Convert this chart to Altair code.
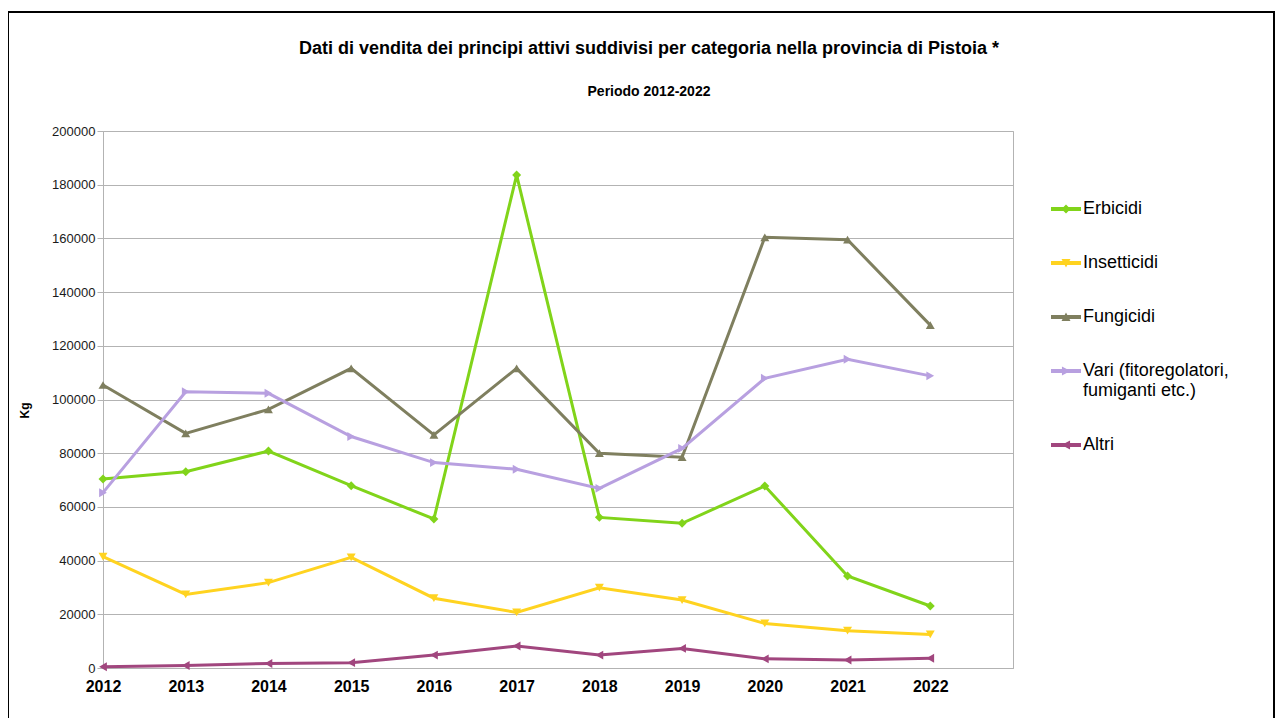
import altair as alt
import pandas as pd

years = [2012, 2013, 2014, 2015, 2016, 2017, 2018, 2019, 2020, 2021, 2022]
categories = ["Erbicidi", "Insetticidi", "Fungicidi",
              "Vari (fitoregolatori, fumiganti etc.)", "Altri"]
erbicidi = [70400, 73100, 80800, 67900, 55500, 183600, 56100, 53900, 67800, 34300, 23100]
insetticidi = [41500, 27400, 31800, 41200, 26000, 20700, 29900, 25300, 16600, 13900, 12500]
fungicidi = [105400, 87400, 96300, 111600, 86800, 111600, 80000, 78500, 160400, 159500, 127700]
vari = [65300, 102900, 102300, 86200, 76500, 74000, 66900, 81800, 107900, 115000, 108800]
altri = [500, 900, 1700, 2000, 4800, 8200, 4800, 7300, 3400, 3000, 3600]
y_ticks = list(range(0, 200001, 20000))

colors = ["#81d41a", "#ffd320", "#7f7f5f", "#b8a0e0", "#a1467e"]
widths = [3, 3, 3, 4.5, 4]
markers = ["diamond", "triangle-down", "triangle-up", "triangle-right", "triangle-left"]
bar = "M-1,-0.13H1V0.13H-1Z "
legend_shapes = [
    bar + "M0,-0.3L0.3,0L0,0.3L-0.3,0Z",
    bar + "M-0.3,-0.27L0.3,-0.27L0,0.3Z",
    bar + "M0,-0.3L0.3,0.27L-0.3,0.27Z",
    bar + "M-0.27,-0.3L0.3,0L-0.27,0.3Z",
    bar + "M0.27,-0.3L0.27,0.3L-0.3,0Z",
]

series = [erbicidi, insetticidi, fungicidi, vari, altri]
rows = []
for cat, vals in zip(categories, series):
    for yr, v in zip(years, vals):
        rows.append({"Anno": yr, "Kg": v, "Categoria": cat})
df = pd.DataFrame(rows)

FONT = "Liberation Sans"
GRID = "#b3b3b3"

x_enc = alt.X("Anno:Q",
              scale=alt.Scale(domain=[2012, 2023], nice=False, zero=False),
              axis=alt.Axis(values=years, format="d", title=None, grid=False,
                            ticks=False, tickSize=0, labelFontSize=16,
                            labelFontWeight="bold", labelColor="#000",
                            labelPadding=10, domainColor=GRID, labelFlush=False))
y_enc = alt.Y("Kg:Q",
              scale=alt.Scale(domain=[0, 200000], nice=False),
              axis=alt.Axis(values=y_ticks, format="d", title="Kg",
                            titleFontSize=12, titleFontWeight="bold",
                            titleColor="#000", titleX=-79, titleY=279,
                            titleBaseline="middle", titleAngle=270,
                            labelFontSize=13, labelColor="#1a1a1a",
                            labelPadding=2, tickSize=6, tickColor=GRID,
                            domainColor=GRID, gridColor=GRID))

def color_enc(legend):
    return alt.Color("Categoria:N", scale=alt.Scale(domain=categories, range=colors),
                     legend=legend)

base = alt.Chart(df).encode(x=x_enc, y=y_enc)

lines = base.mark_line().encode(
    color=color_enc(None),
    strokeWidth=alt.StrokeWidth("Categoria:N",
                                scale=alt.Scale(domain=categories, range=widths),
                                legend=None),
)
points = base.mark_point(filled=True, opacity=1, size=80).encode(
    color=color_enc(None),
    shape=alt.Shape("Categoria:N", scale=alt.Scale(domain=categories, range=markers),
                    legend=None),
)

def leg():
    return alt.Legend(title=None, orient="none", legendX=948, legendY=63,
                      symbolSize=900, symbolStrokeWidth=0, symbolOpacity=1,
                      labelFontSize=18, labelFont=FONT, labelColor="#000",
                      labelOffset=2, rowPadding=30, labelLimit=400, padding=0,
                      labelExpr="split(replace(datum.label, ', ', ',|'), '|')")

legend_layer = base.mark_point(filled=True, opacity=1).encode(
    color=color_enc(leg()),
    shape=alt.Shape("Categoria:N",
                    scale=alt.Scale(domain=categories, range=legend_shapes),
                    legend=leg()),
).transform_filter("false")

fdf = pd.DataFrame({"f": [0]})
frame_left = alt.Chart(fdf).mark_rule(color="#000", strokeWidth=2).encode(
    x=alt.value(-95), y=alt.value(-119), y2=alt.value(590))
frame_top = alt.Chart(fdf).mark_rule(color="#000", strokeWidth=2).encode(
    x=alt.value(-96), x2=alt.value(1172), y=alt.value(-119))
frame_right = alt.Chart(fdf).mark_rule(color="#000", strokeWidth=2).encode(
    x=alt.value(1171), y=alt.value(-119), y2=alt.value(590))

chart = alt.layer(lines, points, legend_layer, frame_left, frame_top, frame_right).resolve_scale(
    color="independent", shape="independent"
).properties(
    width=910, height=537,
    title=alt.TitleParams(
        text="Dati di vendita dei principi attivi suddivisi per categoria nella provincia di Pistoia *",
        subtitle="Periodo 2012-2022",
        fontSize=18, fontWeight="bold", font=FONT, color="#000",
        subtitleFontSize=14, subtitleFontWeight="bold", subtitleFont=FONT,
        subtitleColor="#000", anchor="middle", frame="group", dx=91, dy=120,
        offset=32, subtitlePadding=27),
    padding={"left": 95, "top": 123, "right": 262, "bottom": 50},
    autosize=alt.AutoSizeParams(type="none"),
).configure(font=FONT, background="#ffffff").configure_view(stroke=GRID, strokeWidth=1)

chart.save("out.html", embed_options={"renderer": "svg", "actions": False})
